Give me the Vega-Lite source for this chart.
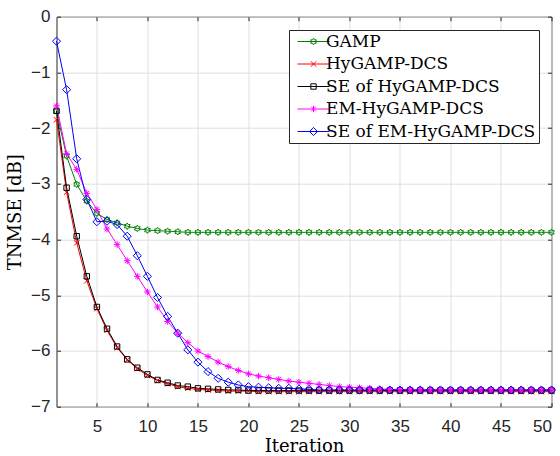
{
  "$schema": "https://vega.github.io/schema/vega-lite/v6.json",
  "width": 495,
  "height": 390,
  "autosize": {"type": "none"},
  "padding": {"left": 56.5, "top": 16.7, "right": 8.5, "bottom": 49.3},
  "background": "white",
  "config": {
    "view": {"stroke": "#262626", "strokeWidth": 1},
    "axis": {
      "labelFont": "Liberation Sans",
      "labelFontSize": 17,
      "labelColor": "#262626",
      "tickColor": "#262626",
      "tickSize": -4,
      "domain": false,
      "gridColor": "#dfdfdf",
      "gridWidth": 1,
      "titleFont": "DejaVu Serif",
      "titleFontSize": 18,
      "titleFontWeight": "normal",
      "titleColor": "#000000"
    },
    "legend": {
      "orient": "none",
      "legendX": 232.5,
      "legendY": 13.3,
      "title": null,
      "labelFont": "DejaVu Serif",
      "labelFontSize": 17,
      "labelColor": "#000000",
      "labelLimit": 400,
      "symbolSize": 36,
      "symbolStrokeWidth": 1,
      "symbolOpacity": 1,
      "symbolOffset": 13,
      "labelOffset": 4,
      "padding": 3,
      "rowPadding": 4.5,
      "fillColor": "white",
      "strokeColor": "#262626"
    }
  },
  "data": {"values": [
    {"iter":1,"series":"GAMP","tnmse":-1.70},{"iter":2,"series":"GAMP","tnmse":-2.50},{"iter":3,"series":"GAMP","tnmse":-3.01},{"iter":4,"series":"GAMP","tnmse":-3.31},{"iter":5,"series":"GAMP","tnmse":-3.53},{"iter":6,"series":"GAMP","tnmse":-3.64},{"iter":7,"series":"GAMP","tnmse":-3.70},{"iter":8,"series":"GAMP","tnmse":-3.76},{"iter":9,"series":"GAMP","tnmse":-3.80},{"iter":10,"series":"GAMP","tnmse":-3.83},
    {"iter":11,"series":"GAMP","tnmse":-3.84},{"iter":12,"series":"GAMP","tnmse":-3.85},{"iter":13,"series":"GAMP","tnmse":-3.86},{"iter":14,"series":"GAMP","tnmse":-3.87},{"iter":15,"series":"GAMP","tnmse":-3.87},{"iter":16,"series":"GAMP","tnmse":-3.87},{"iter":17,"series":"GAMP","tnmse":-3.87},{"iter":18,"series":"GAMP","tnmse":-3.87},{"iter":19,"series":"GAMP","tnmse":-3.87},{"iter":20,"series":"GAMP","tnmse":-3.87},
    {"iter":21,"series":"GAMP","tnmse":-3.87},{"iter":22,"series":"GAMP","tnmse":-3.87},{"iter":23,"series":"GAMP","tnmse":-3.87},{"iter":24,"series":"GAMP","tnmse":-3.87},{"iter":25,"series":"GAMP","tnmse":-3.87},{"iter":26,"series":"GAMP","tnmse":-3.87},{"iter":27,"series":"GAMP","tnmse":-3.87},{"iter":28,"series":"GAMP","tnmse":-3.87},{"iter":29,"series":"GAMP","tnmse":-3.87},{"iter":30,"series":"GAMP","tnmse":-3.87},
    {"iter":31,"series":"GAMP","tnmse":-3.87},{"iter":32,"series":"GAMP","tnmse":-3.87},{"iter":33,"series":"GAMP","tnmse":-3.87},{"iter":34,"series":"GAMP","tnmse":-3.87},{"iter":35,"series":"GAMP","tnmse":-3.87},{"iter":36,"series":"GAMP","tnmse":-3.87},{"iter":37,"series":"GAMP","tnmse":-3.87},{"iter":38,"series":"GAMP","tnmse":-3.87},{"iter":39,"series":"GAMP","tnmse":-3.87},{"iter":40,"series":"GAMP","tnmse":-3.87},
    {"iter":41,"series":"GAMP","tnmse":-3.87},{"iter":42,"series":"GAMP","tnmse":-3.87},{"iter":43,"series":"GAMP","tnmse":-3.87},{"iter":44,"series":"GAMP","tnmse":-3.87},{"iter":45,"series":"GAMP","tnmse":-3.87},{"iter":46,"series":"GAMP","tnmse":-3.87},{"iter":47,"series":"GAMP","tnmse":-3.87},{"iter":48,"series":"GAMP","tnmse":-3.87},{"iter":49,"series":"GAMP","tnmse":-3.87},{"iter":50,"series":"GAMP","tnmse":-3.87},

    {"iter":1,"series":"HyGAMP-DCS","tnmse":-1.85},{"iter":2,"series":"HyGAMP-DCS","tnmse":-3.15},{"iter":3,"series":"HyGAMP-DCS","tnmse":-4.06},{"iter":4,"series":"HyGAMP-DCS","tnmse":-4.74},{"iter":5,"series":"HyGAMP-DCS","tnmse":-5.24},{"iter":6,"series":"HyGAMP-DCS","tnmse":-5.63},{"iter":7,"series":"HyGAMP-DCS","tnmse":-5.94},{"iter":8,"series":"HyGAMP-DCS","tnmse":-6.16},{"iter":9,"series":"HyGAMP-DCS","tnmse":-6.32},{"iter":10,"series":"HyGAMP-DCS","tnmse":-6.44},
    {"iter":11,"series":"HyGAMP-DCS","tnmse":-6.53},{"iter":12,"series":"HyGAMP-DCS","tnmse":-6.59},{"iter":13,"series":"HyGAMP-DCS","tnmse":-6.64},{"iter":14,"series":"HyGAMP-DCS","tnmse":-6.67},{"iter":15,"series":"HyGAMP-DCS","tnmse":-6.69},{"iter":16,"series":"HyGAMP-DCS","tnmse":-6.70},{"iter":17,"series":"HyGAMP-DCS","tnmse":-6.71},{"iter":18,"series":"HyGAMP-DCS","tnmse":-6.72},{"iter":19,"series":"HyGAMP-DCS","tnmse":-6.72},{"iter":20,"series":"HyGAMP-DCS","tnmse":-6.72},
    {"iter":21,"series":"HyGAMP-DCS","tnmse":-6.73},{"iter":22,"series":"HyGAMP-DCS","tnmse":-6.73},{"iter":23,"series":"HyGAMP-DCS","tnmse":-6.73},{"iter":24,"series":"HyGAMP-DCS","tnmse":-6.73},{"iter":25,"series":"HyGAMP-DCS","tnmse":-6.73},{"iter":26,"series":"HyGAMP-DCS","tnmse":-6.73},{"iter":27,"series":"HyGAMP-DCS","tnmse":-6.73},{"iter":28,"series":"HyGAMP-DCS","tnmse":-6.73},{"iter":29,"series":"HyGAMP-DCS","tnmse":-6.73},{"iter":30,"series":"HyGAMP-DCS","tnmse":-6.73},
    {"iter":31,"series":"HyGAMP-DCS","tnmse":-6.73},{"iter":32,"series":"HyGAMP-DCS","tnmse":-6.73},{"iter":33,"series":"HyGAMP-DCS","tnmse":-6.73},{"iter":34,"series":"HyGAMP-DCS","tnmse":-6.73},{"iter":35,"series":"HyGAMP-DCS","tnmse":-6.73},{"iter":36,"series":"HyGAMP-DCS","tnmse":-6.73},{"iter":37,"series":"HyGAMP-DCS","tnmse":-6.73},{"iter":38,"series":"HyGAMP-DCS","tnmse":-6.73},{"iter":39,"series":"HyGAMP-DCS","tnmse":-6.73},{"iter":40,"series":"HyGAMP-DCS","tnmse":-6.73},
    {"iter":41,"series":"HyGAMP-DCS","tnmse":-6.73},{"iter":42,"series":"HyGAMP-DCS","tnmse":-6.73},{"iter":43,"series":"HyGAMP-DCS","tnmse":-6.73},{"iter":44,"series":"HyGAMP-DCS","tnmse":-6.73},{"iter":45,"series":"HyGAMP-DCS","tnmse":-6.73},{"iter":46,"series":"HyGAMP-DCS","tnmse":-6.73},{"iter":47,"series":"HyGAMP-DCS","tnmse":-6.73},{"iter":48,"series":"HyGAMP-DCS","tnmse":-6.73},{"iter":49,"series":"HyGAMP-DCS","tnmse":-6.73},{"iter":50,"series":"HyGAMP-DCS","tnmse":-6.73},

    {"iter":1,"series":"SE of HyGAMP-DCS","tnmse":-1.69},{"iter":2,"series":"SE of HyGAMP-DCS","tnmse":-3.07},{"iter":3,"series":"SE of HyGAMP-DCS","tnmse":-3.94},{"iter":4,"series":"SE of HyGAMP-DCS","tnmse":-4.66},{"iter":5,"series":"SE of HyGAMP-DCS","tnmse":-5.21},{"iter":6,"series":"SE of HyGAMP-DCS","tnmse":-5.60},{"iter":7,"series":"SE of HyGAMP-DCS","tnmse":-5.92},{"iter":8,"series":"SE of HyGAMP-DCS","tnmse":-6.15},{"iter":9,"series":"SE of HyGAMP-DCS","tnmse":-6.30},{"iter":10,"series":"SE of HyGAMP-DCS","tnmse":-6.42},
    {"iter":11,"series":"SE of HyGAMP-DCS","tnmse":-6.52},{"iter":12,"series":"SE of HyGAMP-DCS","tnmse":-6.57},{"iter":13,"series":"SE of HyGAMP-DCS","tnmse":-6.62},{"iter":14,"series":"SE of HyGAMP-DCS","tnmse":-6.64},{"iter":15,"series":"SE of HyGAMP-DCS","tnmse":-6.67},{"iter":16,"series":"SE of HyGAMP-DCS","tnmse":-6.68},{"iter":17,"series":"SE of HyGAMP-DCS","tnmse":-6.69},{"iter":18,"series":"SE of HyGAMP-DCS","tnmse":-6.70},{"iter":19,"series":"SE of HyGAMP-DCS","tnmse":-6.70},{"iter":20,"series":"SE of HyGAMP-DCS","tnmse":-6.71},
    {"iter":21,"series":"SE of HyGAMP-DCS","tnmse":-6.71},{"iter":22,"series":"SE of HyGAMP-DCS","tnmse":-6.71},{"iter":23,"series":"SE of HyGAMP-DCS","tnmse":-6.71},{"iter":24,"series":"SE of HyGAMP-DCS","tnmse":-6.71},{"iter":25,"series":"SE of HyGAMP-DCS","tnmse":-6.71},{"iter":26,"series":"SE of HyGAMP-DCS","tnmse":-6.71},{"iter":27,"series":"SE of HyGAMP-DCS","tnmse":-6.71},{"iter":28,"series":"SE of HyGAMP-DCS","tnmse":-6.71},{"iter":29,"series":"SE of HyGAMP-DCS","tnmse":-6.71},{"iter":30,"series":"SE of HyGAMP-DCS","tnmse":-6.71},
    {"iter":31,"series":"SE of HyGAMP-DCS","tnmse":-6.71},{"iter":32,"series":"SE of HyGAMP-DCS","tnmse":-6.71},{"iter":33,"series":"SE of HyGAMP-DCS","tnmse":-6.71},{"iter":34,"series":"SE of HyGAMP-DCS","tnmse":-6.71},{"iter":35,"series":"SE of HyGAMP-DCS","tnmse":-6.71},{"iter":36,"series":"SE of HyGAMP-DCS","tnmse":-6.71},{"iter":37,"series":"SE of HyGAMP-DCS","tnmse":-6.71},{"iter":38,"series":"SE of HyGAMP-DCS","tnmse":-6.71},{"iter":39,"series":"SE of HyGAMP-DCS","tnmse":-6.71},{"iter":40,"series":"SE of HyGAMP-DCS","tnmse":-6.71},
    {"iter":41,"series":"SE of HyGAMP-DCS","tnmse":-6.71},{"iter":42,"series":"SE of HyGAMP-DCS","tnmse":-6.71},{"iter":43,"series":"SE of HyGAMP-DCS","tnmse":-6.71},{"iter":44,"series":"SE of HyGAMP-DCS","tnmse":-6.71},{"iter":45,"series":"SE of HyGAMP-DCS","tnmse":-6.71},{"iter":46,"series":"SE of HyGAMP-DCS","tnmse":-6.71},{"iter":47,"series":"SE of HyGAMP-DCS","tnmse":-6.71},{"iter":48,"series":"SE of HyGAMP-DCS","tnmse":-6.71},{"iter":49,"series":"SE of HyGAMP-DCS","tnmse":-6.71},{"iter":50,"series":"SE of HyGAMP-DCS","tnmse":-6.71},

    {"iter":1,"series":"EM-HyGAMP-DCS","tnmse":-1.60},{"iter":2,"series":"EM-HyGAMP-DCS","tnmse":-2.46},{"iter":3,"series":"EM-HyGAMP-DCS","tnmse":-2.74},{"iter":4,"series":"EM-HyGAMP-DCS","tnmse":-3.17},{"iter":5,"series":"EM-HyGAMP-DCS","tnmse":-3.46},{"iter":6,"series":"EM-HyGAMP-DCS","tnmse":-3.81},{"iter":7,"series":"EM-HyGAMP-DCS","tnmse":-4.09},{"iter":8,"series":"EM-HyGAMP-DCS","tnmse":-4.38},{"iter":9,"series":"EM-HyGAMP-DCS","tnmse":-4.66},{"iter":10,"series":"EM-HyGAMP-DCS","tnmse":-4.94},
    {"iter":11,"series":"EM-HyGAMP-DCS","tnmse":-5.21},{"iter":12,"series":"EM-HyGAMP-DCS","tnmse":-5.47},{"iter":13,"series":"EM-HyGAMP-DCS","tnmse":-5.68},{"iter":14,"series":"EM-HyGAMP-DCS","tnmse":-5.85},{"iter":15,"series":"EM-HyGAMP-DCS","tnmse":-6.00},{"iter":16,"series":"EM-HyGAMP-DCS","tnmse":-6.10},{"iter":17,"series":"EM-HyGAMP-DCS","tnmse":-6.20},{"iter":18,"series":"EM-HyGAMP-DCS","tnmse":-6.28},{"iter":19,"series":"EM-HyGAMP-DCS","tnmse":-6.35},{"iter":20,"series":"EM-HyGAMP-DCS","tnmse":-6.41},
    {"iter":21,"series":"EM-HyGAMP-DCS","tnmse":-6.45},{"iter":22,"series":"EM-HyGAMP-DCS","tnmse":-6.48},{"iter":23,"series":"EM-HyGAMP-DCS","tnmse":-6.51},{"iter":24,"series":"EM-HyGAMP-DCS","tnmse":-6.54},{"iter":25,"series":"EM-HyGAMP-DCS","tnmse":-6.56},{"iter":26,"series":"EM-HyGAMP-DCS","tnmse":-6.58},{"iter":27,"series":"EM-HyGAMP-DCS","tnmse":-6.60},{"iter":28,"series":"EM-HyGAMP-DCS","tnmse":-6.62},{"iter":29,"series":"EM-HyGAMP-DCS","tnmse":-6.64},{"iter":30,"series":"EM-HyGAMP-DCS","tnmse":-6.65},
    {"iter":31,"series":"EM-HyGAMP-DCS","tnmse":-6.66},{"iter":32,"series":"EM-HyGAMP-DCS","tnmse":-6.67},{"iter":33,"series":"EM-HyGAMP-DCS","tnmse":-6.68},{"iter":34,"series":"EM-HyGAMP-DCS","tnmse":-6.69},{"iter":35,"series":"EM-HyGAMP-DCS","tnmse":-6.69},{"iter":36,"series":"EM-HyGAMP-DCS","tnmse":-6.70},{"iter":37,"series":"EM-HyGAMP-DCS","tnmse":-6.70},{"iter":38,"series":"EM-HyGAMP-DCS","tnmse":-6.70},{"iter":39,"series":"EM-HyGAMP-DCS","tnmse":-6.70},{"iter":40,"series":"EM-HyGAMP-DCS","tnmse":-6.70},
    {"iter":41,"series":"EM-HyGAMP-DCS","tnmse":-6.70},{"iter":42,"series":"EM-HyGAMP-DCS","tnmse":-6.70},{"iter":43,"series":"EM-HyGAMP-DCS","tnmse":-6.70},{"iter":44,"series":"EM-HyGAMP-DCS","tnmse":-6.70},{"iter":45,"series":"EM-HyGAMP-DCS","tnmse":-6.70},{"iter":46,"series":"EM-HyGAMP-DCS","tnmse":-6.70},{"iter":47,"series":"EM-HyGAMP-DCS","tnmse":-6.70},{"iter":48,"series":"EM-HyGAMP-DCS","tnmse":-6.70},{"iter":49,"series":"EM-HyGAMP-DCS","tnmse":-6.70},{"iter":50,"series":"EM-HyGAMP-DCS","tnmse":-6.70},

    {"iter":1,"series":"SE of EM-HyGAMP-DCS","tnmse":-0.44},{"iter":2,"series":"SE of EM-HyGAMP-DCS","tnmse":-1.31},{"iter":3,"series":"SE of EM-HyGAMP-DCS","tnmse":-2.55},{"iter":4,"series":"SE of EM-HyGAMP-DCS","tnmse":-3.28},{"iter":5,"series":"SE of EM-HyGAMP-DCS","tnmse":-3.68},{"iter":6,"series":"SE of EM-HyGAMP-DCS","tnmse":-3.67},{"iter":7,"series":"SE of EM-HyGAMP-DCS","tnmse":-3.73},{"iter":8,"series":"SE of EM-HyGAMP-DCS","tnmse":-3.94},{"iter":9,"series":"SE of EM-HyGAMP-DCS","tnmse":-4.29},{"iter":10,"series":"SE of EM-HyGAMP-DCS","tnmse":-4.66},
    {"iter":11,"series":"SE of EM-HyGAMP-DCS","tnmse":-5.04},{"iter":12,"series":"SE of EM-HyGAMP-DCS","tnmse":-5.38},{"iter":13,"series":"SE of EM-HyGAMP-DCS","tnmse":-5.68},{"iter":14,"series":"SE of EM-HyGAMP-DCS","tnmse":-5.98},{"iter":15,"series":"SE of EM-HyGAMP-DCS","tnmse":-6.20},{"iter":16,"series":"SE of EM-HyGAMP-DCS","tnmse":-6.37},{"iter":17,"series":"SE of EM-HyGAMP-DCS","tnmse":-6.49},{"iter":18,"series":"SE of EM-HyGAMP-DCS","tnmse":-6.56},{"iter":19,"series":"SE of EM-HyGAMP-DCS","tnmse":-6.61},{"iter":20,"series":"SE of EM-HyGAMP-DCS","tnmse":-6.64},
    {"iter":21,"series":"SE of EM-HyGAMP-DCS","tnmse":-6.65},{"iter":22,"series":"SE of EM-HyGAMP-DCS","tnmse":-6.66},{"iter":23,"series":"SE of EM-HyGAMP-DCS","tnmse":-6.67},{"iter":24,"series":"SE of EM-HyGAMP-DCS","tnmse":-6.67},{"iter":25,"series":"SE of EM-HyGAMP-DCS","tnmse":-6.68},{"iter":26,"series":"SE of EM-HyGAMP-DCS","tnmse":-6.69},{"iter":27,"series":"SE of EM-HyGAMP-DCS","tnmse":-6.70},{"iter":28,"series":"SE of EM-HyGAMP-DCS","tnmse":-6.70},{"iter":29,"series":"SE of EM-HyGAMP-DCS","tnmse":-6.70},{"iter":30,"series":"SE of EM-HyGAMP-DCS","tnmse":-6.70},
    {"iter":31,"series":"SE of EM-HyGAMP-DCS","tnmse":-6.70},{"iter":32,"series":"SE of EM-HyGAMP-DCS","tnmse":-6.70},{"iter":33,"series":"SE of EM-HyGAMP-DCS","tnmse":-6.70},{"iter":34,"series":"SE of EM-HyGAMP-DCS","tnmse":-6.70},{"iter":35,"series":"SE of EM-HyGAMP-DCS","tnmse":-6.70},{"iter":36,"series":"SE of EM-HyGAMP-DCS","tnmse":-6.70},{"iter":37,"series":"SE of EM-HyGAMP-DCS","tnmse":-6.70},{"iter":38,"series":"SE of EM-HyGAMP-DCS","tnmse":-6.70},{"iter":39,"series":"SE of EM-HyGAMP-DCS","tnmse":-6.70},{"iter":40,"series":"SE of EM-HyGAMP-DCS","tnmse":-6.70},
    {"iter":41,"series":"SE of EM-HyGAMP-DCS","tnmse":-6.70},{"iter":42,"series":"SE of EM-HyGAMP-DCS","tnmse":-6.70},{"iter":43,"series":"SE of EM-HyGAMP-DCS","tnmse":-6.70},{"iter":44,"series":"SE of EM-HyGAMP-DCS","tnmse":-6.70},{"iter":45,"series":"SE of EM-HyGAMP-DCS","tnmse":-6.70},{"iter":46,"series":"SE of EM-HyGAMP-DCS","tnmse":-6.70},{"iter":47,"series":"SE of EM-HyGAMP-DCS","tnmse":-6.70},{"iter":48,"series":"SE of EM-HyGAMP-DCS","tnmse":-6.70},{"iter":49,"series":"SE of EM-HyGAMP-DCS","tnmse":-6.70},{"iter":50,"series":"SE of EM-HyGAMP-DCS","tnmse":-6.70}
  ]},
  "layer": [
    {
      "mark": {"type": "line", "strokeWidth": 1},
      "encoding": {
        "x": {
          "field": "iter", "type": "quantitative",
          "scale": {"domain": [1, 50], "nice": false, "zero": false},
          "axis": {"orient": "bottom", "values": [5,10,15,20,25,30,35,40,45,50], "title": "Iteration", "labelPadding": 16, "titlePadding": 3, "grid": true}
        },
        "y": {
          "field": "tnmse", "type": "quantitative",
          "scale": {"domain": [-7, 0], "nice": false, "zero": false},
          "axis": {"orient": "left", "values": [-7,-6,-5,-4,-3,-2,-1,0], "title": "TNMSE [dB]", "labelPadding": 10.5, "titlePadding": 6, "grid": true}
        },
        "stroke": {
          "field": "series", "type": "nominal",
          "scale": {
            "domain": ["GAMP", "HyGAMP-DCS", "SE of HyGAMP-DCS", "EM-HyGAMP-DCS", "SE of EM-HyGAMP-DCS"],
            "range": ["#008000", "#ff0000", "#000000", "#ff00ff", "#0000ff"]
          },
          "legend": null
        },
        "order": {"field": "iter"}
      }
    },
    {
      "mark": {"type": "point", "filled": false, "size": 36, "strokeWidth": 1, "opacity": 1},
      "encoding": {
        "x": {
          "field": "iter", "type": "quantitative",
          "axis": {"orient": "top", "values": [5,10,15,20,25,30,35,40,45,50], "labels": false, "title": null, "grid": false}
        },
        "y": {
          "field": "tnmse", "type": "quantitative",
          "axis": {"orient": "right", "values": [-7,-6,-5,-4,-3,-2,-1,0], "labels": false, "title": null, "grid": false}
        },
        "stroke": {"field": "series", "type": "nominal", "legend": null},
        "shape": {
          "field": "series", "type": "nominal",
          "scale": {
            "domain": ["GAMP", "HyGAMP-DCS", "SE of HyGAMP-DCS", "EM-HyGAMP-DCS", "SE of EM-HyGAMP-DCS"],
            "range": [
              "M0,-1.1L0.32,-0.55L0.95,-0.55L0.64,0L0.95,0.55L0.32,0.55L0,1.1L-0.32,0.55L-0.95,0.55L-0.64,0L-0.95,-0.55L-0.32,-0.55Z",
              "M-0.9,-0.9L0.9,0.9M-0.9,0.9L0.9,-0.9",
              "M-0.9,-0.9L0.9,-0.9L0.9,0.9L-0.9,0.9Z",
              "M-1.1,0L1.1,0M0,-1.1L0,1.1M-0.78,-0.78L0.78,0.78M-0.78,0.78L0.78,-0.78",
              "M0,-1.35L1.35,0L0,1.35L-1.35,0Z"
            ]
          },
          "legend": null
        }
      }
    },
    {
      "mark": {"type": "point", "filled": false, "size": 36, "strokeWidth": 1, "opacity": 0},
      "encoding": {
        "x": {"field": "iter", "type": "quantitative", "axis": null},
        "y": {"field": "tnmse", "type": "quantitative", "axis": null},
        "color": {
          "field": "series", "type": "nominal",
          "scale": {
            "domain": ["GAMP", "HyGAMP-DCS", "SE of HyGAMP-DCS", "EM-HyGAMP-DCS", "SE of EM-HyGAMP-DCS"],
            "range": ["#008000", "#ff0000", "#000000", "#ff00ff", "#0000ff"]
          }
        },
        "shape": {
          "field": "series", "type": "nominal",
          "scale": {
            "domain": ["GAMP", "HyGAMP-DCS", "SE of HyGAMP-DCS", "EM-HyGAMP-DCS", "SE of EM-HyGAMP-DCS"],
            "range": [
              "M-5.33,0L5.33,0M0,-1.1L0.32,-0.55L0.95,-0.55L0.64,0L0.95,0.55L0.32,0.55L0,1.1L-0.32,0.55L-0.95,0.55L-0.64,0L-0.95,-0.55L-0.32,-0.55Z",
              "M-5.33,0L5.33,0M-0.9,-0.9L0.9,0.9M-0.9,0.9L0.9,-0.9",
              "M-5.33,0L5.33,0M-0.9,-0.9L0.9,-0.9L0.9,0.9L-0.9,0.9Z",
              "M-5.33,0L5.33,0M0,-1.1L0,1.1M-0.78,-0.78L0.78,0.78M-0.78,0.78L0.78,-0.78",
              "M-5.33,0L5.33,0M0,-1.35L1.35,0L0,1.35L-1.35,0Z"
            ]
          }
        }
      }
    }
  ],
  "resolve": {
    "axis": {"x": "independent", "y": "independent"},
    "scale": {"shape": "independent", "color": "independent"}
  }
}
